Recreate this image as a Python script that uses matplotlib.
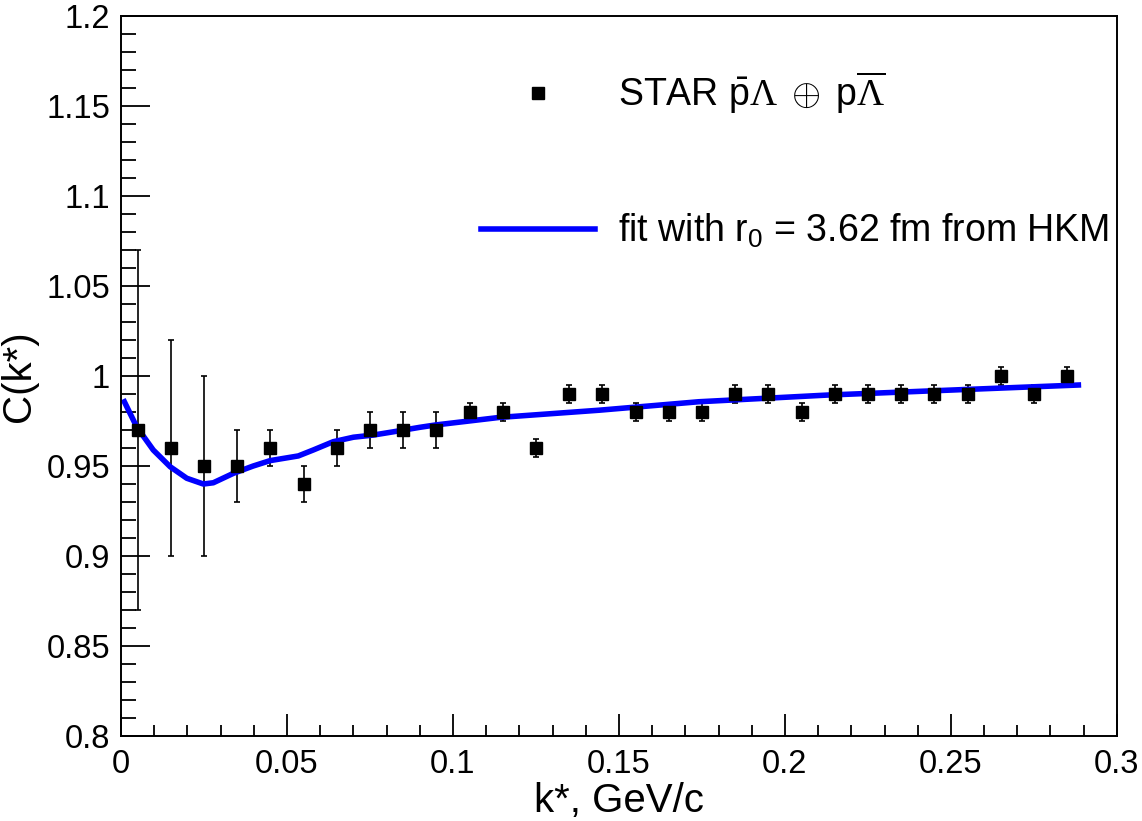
import matplotlib.pyplot as plt
import numpy as np
from matplotlib.ticker import MultipleLocator
from matplotlib.lines import Line2D

plt.rcParams["font.family"] = ["Liberation Sans", "DejaVu Sans"]
plt.rcParams["mathtext.fontset"] = "custom"
plt.rcParams["mathtext.rm"] = "Liberation Sans"
plt.rcParams["mathtext.it"] = "Liberation Sans:italic"
plt.rcParams["mathtext.sf"] = "Liberation Serif"

# STAR data points
k_data = [0.005, 0.015, 0.025, 0.035, 0.045, 0.055, 0.065, 0.075, 0.085, 0.095,
          0.105, 0.115, 0.125, 0.135, 0.145, 0.155, 0.165, 0.175, 0.185, 0.195,
          0.205, 0.215, 0.225, 0.235, 0.245, 0.255, 0.265, 0.275, 0.285]
c_data = [0.97, 0.96, 0.95, 0.95, 0.96, 0.94, 0.96, 0.97, 0.97, 0.97,
          0.98, 0.98, 0.96, 0.99, 0.99, 0.98, 0.98, 0.98, 0.99, 0.99,
          0.98, 0.99, 0.99, 0.99, 0.99, 0.99, 1.00, 0.99, 1.00]
c_err = [0.10, 0.06, 0.05, 0.02, 0.01, 0.01, 0.01, 0.01, 0.01, 0.01,
         0.005, 0.005, 0.005, 0.005, 0.005, 0.005, 0.005, 0.005, 0.005, 0.005,
         0.005, 0.005, 0.005, 0.005, 0.005, 0.005, 0.005, 0.005, 0.005]

# HKM fit curve
k_fit = [0.001, 0.0047, 0.0097, 0.0148, 0.0198, 0.0248, 0.0278, 0.0338, 0.0398,
         0.0449, 0.0534, 0.0579, 0.0639, 0.070, 0.076, 0.082, 0.090, 0.0947,
         0.114, 0.144, 0.174, 0.2126, 0.2555, 0.2884]
c_fit = [0.9857, 0.9718, 0.9589, 0.9496, 0.9432, 0.940, 0.9407, 0.9459, 0.950,
         0.953, 0.9556, 0.9589, 0.9635, 0.966, 0.9672, 0.969, 0.9715, 0.9728,
         0.977, 0.981, 0.9857, 0.9894, 0.9926, 0.995]

fig = plt.figure(figsize=(11.42, 8.21), dpi=100)
ax = fig.add_axes([0.106, 0.1035, 0.872, 0.877])

ax.errorbar(k_data, c_data, yerr=c_err, fmt="s", color="black",
            markersize=8, elinewidth=1.2, capsize=2.5, capthick=1.2)
ax.plot(k_fit, c_fit, color="#0000ff", lw=4)

ax.set_xlim(0, 0.3)
ax.set_ylim(0.8, 1.2)
ax.xaxis.set_minor_locator(MultipleLocator(0.01))
ax.yaxis.set_minor_locator(MultipleLocator(0.01))
ax.set_xticks([0, 0.05, 0.1, 0.15, 0.2, 0.25, 0.3])
ax.set_xticklabels(["0", "0.05", "0.1", "0.15", "0.2", "0.25", "0.3"])
ax.set_yticks([0.8, 0.85, 0.9, 0.95, 1.0, 1.05, 1.1, 1.15, 1.2])
ax.set_yticklabels(["0.8", "0.85", "0.9", "0.95", "1", "1.05", "1.1", "1.15", "1.2"])

ax.tick_params(axis="both", which="both", direction="in", width=1.3,
               labelsize=23.5, top=False, right=False)
ax.tick_params(axis="y", which="major", length=21, pad=8)
ax.tick_params(axis="y", which="minor", length=10.5)
ax.tick_params(axis="x", which="major", length=16, pad=9)
ax.tick_params(axis="x", which="minor", length=8)
for s in ax.spines.values():
    s.set_linewidth(1.4)

ax.set_xlabel("k*, GeV/c", fontsize=29, labelpad=2)
ax.set_ylabel("C(k*)", fontsize=29, labelpad=6)

handles = [Line2D([], [], ls="none", marker="s", color="black", markersize=8),
           Line2D([], [], color="#0000ff", lw=4)]
labels = [r"STAR $\bar{\mathrm{p}}\mathsf{\Lambda}\;\oplus\;\mathrm{p}\overline{\mathsf{\Lambda}}$",
          r"fit with r$_0$ = 3.62 fm from HKM"]
ax.legend(handles, labels, loc="upper left", bbox_to_anchor=(0.3614, 0.925),
          frameon=False, fontsize=27, handlelength=3.05, handletextpad=0.6,
          labelspacing=2.55, borderpad=0, borderaxespad=0)

plt.savefig("out.png", dpi=100)
